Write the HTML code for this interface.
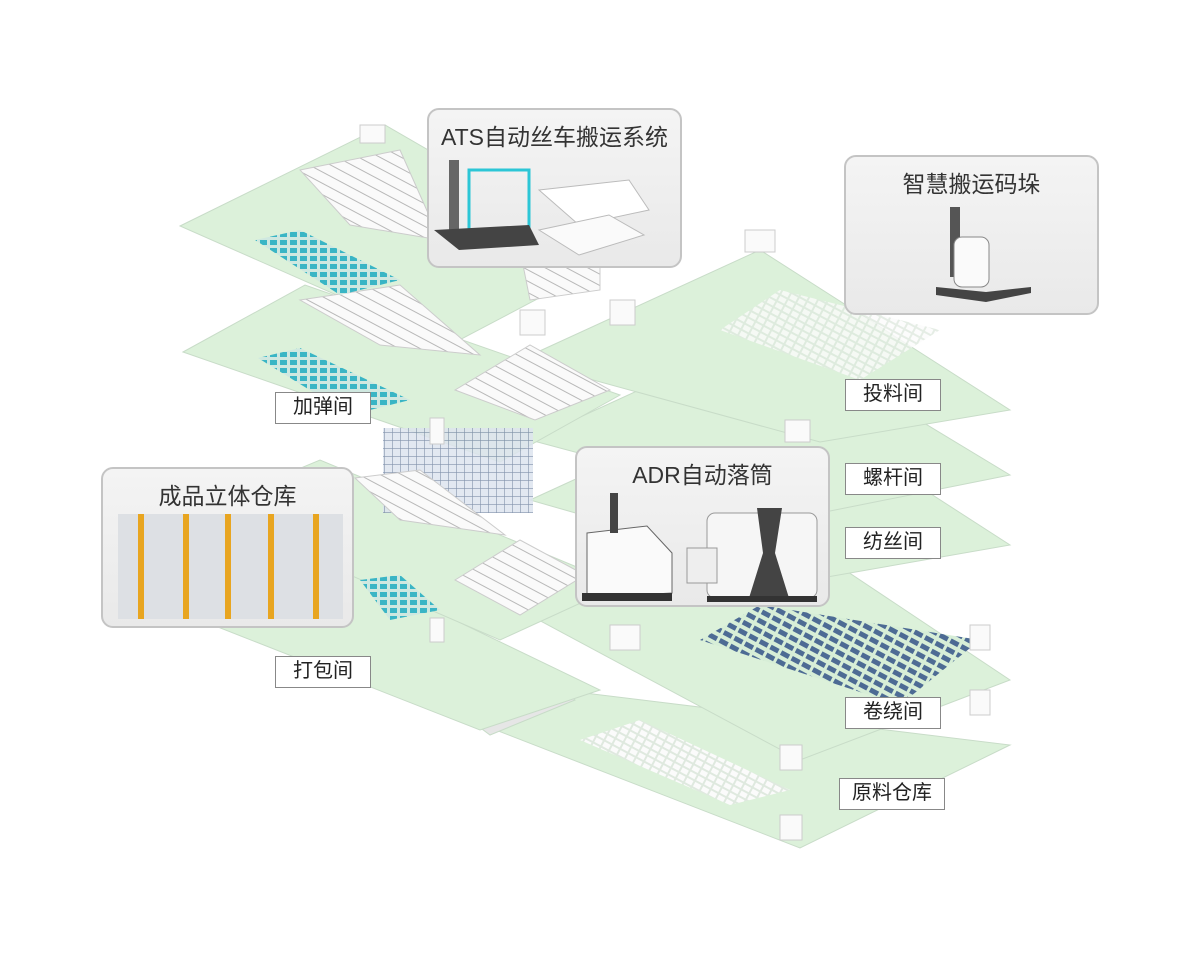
<!DOCTYPE html>
<html><head><meta charset="utf-8"><style>
body{margin:0;background:#fff;width:1200px;height:960px;position:relative;overflow:hidden;font-family:"Liberation Sans","Noto Sans CJK SC",sans-serif}
.cb{position:absolute;border:2px solid #c4c4c4;border-radius:12px;background:linear-gradient(#f4f4f4,#e9e9e9);box-sizing:border-box;text-align:center;font-size:23px;color:#333;overflow:hidden}
.cb span{display:block;margin-top:8px}
.lb{position:absolute;background:#fff;border:1.5px solid #888;box-sizing:border-box;font-size:20px;color:#222;text-align:center;line-height:29px;width:96px;height:32px}
</style></head><body>
<svg width="1200" height="960" style="position:absolute;left:0;top:0">
<defs>
<pattern id="rk" width="8" height="8" patternUnits="userSpaceOnUse"><rect width="8" height="8" fill="#dde4ee"/><path d="M0 0V8M0 0H8" stroke="#6c7f9c" stroke-width="1.2"/></pattern>
<pattern id="mc" width="14" height="10" patternUnits="userSpaceOnUse" patternTransform="rotate(28)"><rect width="14" height="10" fill="#fafafa"/><path d="M0 0H14" stroke="#b8b8b8" stroke-width="2"/></pattern>
<pattern id="tl" width="10" height="8" patternUnits="userSpaceOnUse"><rect width="10" height="8" fill="#cfe8e0"/><rect width="7" height="5" fill="#3ab5c5"/></pattern>
<pattern id="bl" width="12" height="9" patternUnits="userSpaceOnUse" patternTransform="rotate(28)"><rect width="12" height="9" fill="#d7eed7"/><rect width="9" height="5" fill="#4d6b94"/></pattern>
<pattern id="wh" width="9" height="7" patternUnits="userSpaceOnUse" patternTransform="rotate(28)"><rect width="9" height="7" fill="#dfe9df"/><rect width="7" height="5" fill="#fbfbfb"/></pattern>
</defs>
<g fill="#dcf1da" stroke="#c8dcc8">
<polygon points="470,720 560,690 1010,745 800,848"/>
<polygon points="470,720 560,690 575,700 490,735" fill="#e6e6e6"/>
<polygon points="200,620 330,560 600,690 480,730"/>
<polygon points="520,610 770,520 1010,680 800,760"/>
<polygon points="530,500 770,390 1010,545 810,580"/>
<polygon points="530,440 770,330 1010,475 810,515"/>
<polygon points="520,360 760,250 1010,410 820,442"/>
<polygon points="200,510 320,460 620,585 500,640"/>
<polygon points="183,352 305,285 620,395 500,462"/>
<polygon points="180,226 385,125 615,258 450,345"/>
</g>
<rect x="383" y="428" width="150" height="85" fill="url(#rk)" opacity=".85"/>
<g fill="url(#mc)" stroke="#ccc">
<polygon points="300,170 400,150 440,240 350,225"/>
<polygon points="300,300 400,285 480,355 380,345"/>
<polygon points="455,390 530,345 610,390 535,420"/>
<polygon points="355,478 420,470 505,535 400,520"/>
<polygon points="455,580 520,540 585,575 520,615"/>
<polygon points="520,250 600,235 600,290 530,300"/>
</g>
<g fill="url(#tl)">
<polygon points="255,240 300,230 400,280 340,295"/>
<polygon points="258,358 300,348 410,400 350,415"/>
<polygon points="360,580 400,575 440,610 390,620"/>
</g>
<polygon points="700,640 760,605 980,640 900,705" fill="url(#bl)"/>
<polygon points="580,740 640,720 790,790 730,805" fill="url(#wh)"/>
<polygon points="720,330 780,290 940,330 860,380" fill="url(#wh)" opacity=".8"/>
<g fill="#fafafa" stroke="#ccc">
<rect x="360" y="125" width="25" height="18"/><rect x="610" y="300" width="25" height="25"/>
<rect x="745" y="230" width="30" height="22"/><rect x="785" y="420" width="25" height="22"/>
<rect x="610" y="625" width="30" height="25"/><rect x="780" y="745" width="22" height="25"/>
<rect x="780" y="815" width="22" height="25"/><rect x="970" y="625" width="20" height="25"/>
<rect x="970" y="690" width="20" height="25"/><rect x="430" y="418" width="14" height="26"/>
<rect x="430" y="618" width="14" height="24"/><rect x="520" y="310" width="25" height="25"/>
</g>
</svg>
<div class="cb" style="left:427px;top:108px;width:255px;height:160px"><span>ATS自动丝车搬运系统</span>
<svg width="250" height="110" style="position:absolute;left:0;top:40px"><polygon points="110,40 200,30 220,60 150,75" fill="#fff" stroke="#bbb"/><polygon points="110,80 180,65 215,85 150,105" fill="#fafafa" stroke="#bbb"/><rect x="40" y="20" width="60" height="60" fill="none" stroke="#2cc6d6" stroke-width="3"/><rect x="20" y="10" width="10" height="75" fill="#666"/><polygon points="5,80 100,75 110,95 30,100" fill="#444"/></svg></div>
<div class="cb" style="left:844px;top:155px;width:255px;height:160px"><span>智慧搬运码垛</span>
<svg width="250" height="120" style="position:absolute;left:0;top:40px"><rect x="104" y="10" width="10" height="70" fill="#555"/><rect x="108" y="40" width="35" height="50" rx="8" fill="#fafafa" stroke="#888"/><polygon points="90,90 140,95 185,90 185,96 140,105 90,98" fill="#444"/></svg></div>
<div class="cb" style="left:575px;top:446px;width:255px;height:161px"><span>ADR自动落筒</span>
<svg width="250" height="115" style="position:absolute;left:0;top:40px"><polygon points="10,45 70,38 95,65 95,105 10,110" fill="#fafafa" stroke="#666"/><rect x="33" y="5" width="8" height="40" fill="#444"/><rect x="5" y="105" width="90" height="8" fill="#333"/><rect x="130" y="25" width="110" height="85" rx="8" fill="#f6f6f6" stroke="#999"/><polygon points="180,20 205,20 198,65 212,110 172,110 186,65" fill="#444"/><rect x="110" y="60" width="30" height="35" fill="#eee" stroke="#999"/><rect x="130" y="108" width="110" height="6" fill="#333"/></svg></div>
<div class="cb" style="left:101px;top:467px;width:253px;height:161px"><span>成品立体仓库</span>
<svg width="250" height="120" style="position:absolute;left:0;top:40px"><rect x="15" y="5" width="225" height="105" fill="#dde0e4"/><g fill="#e8a520"><rect x="35" y="5" width="6" height="105"/><rect x="80" y="5" width="6" height="105"/><rect x="122" y="5" width="6" height="105"/><rect x="165" y="5" width="6" height="105"/><rect x="210" y="5" width="6" height="105"/></g></svg></div>
<div class="lb" style="left:275px;top:392px">加弹间</div>
<div class="lb" style="left:845px;top:379px">投料间</div>
<div class="lb" style="left:845px;top:463px">螺杆间</div>
<div class="lb" style="left:845px;top:527px">纺丝间</div>
<div class="lb" style="left:275px;top:656px">打包间</div>
<div class="lb" style="left:845px;top:697px">卷绕间</div>
<div class="lb" style="left:839px;top:778px;width:106px">原料仓库</div>
</body></html>
